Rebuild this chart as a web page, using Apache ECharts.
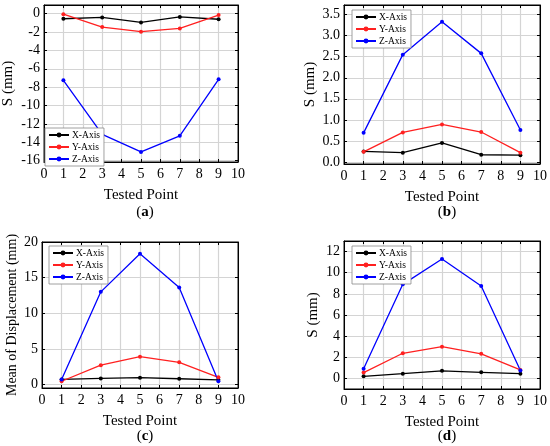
<!DOCTYPE html>
<html>
<head>
<meta charset="utf-8">
<script src="https://cdn.jsdelivr.net/npm/echarts@6/dist/echarts.min.js"></script>
<style>html,body{margin:0;padding:0;background:#fff;}#chart{width:550px;height:446px;}</style>
</head>
<body>
<div id="chart"></div>
<script>
var points = [1, 3, 5, 7, 9];
var seriesNames = ['X-Axis', 'Y-Axis', 'Z-Axis'];

// (a)
var aX = [-0.55, -0.4, -0.95, -0.35, -0.6];
var aY = [-0.05, -1.45, -1.95, -1.6, -0.15];
var aZ = [-7.25, -13.15, -15.05, -13.3, -7.15];
// (b)
var bX = [0.25, 0.22, 0.45, 0.17, 0.16];
var bY = [0.24, 0.7, 0.89, 0.71, 0.22];
var bZ = [0.69, 2.55, 3.33, 2.58, 0.76];
// (c)
var cX = [0.7, 0.85, 0.95, 0.8, 0.65];
var cY = [0.45, 2.7, 3.9, 3.1, 1.0];
var cZ = [0.7, 13.0, 18.35, 13.6, 0.45];
// (d)
var dX = [0.2, 0.45, 0.72, 0.58, 0.45];
var dY = [0.55, 2.38, 3.0, 2.33, 0.8];
var dZ = [0.92, 8.9, 11.3, 8.75, 0.75];

var panels = [
  {grid: {left: 42, top: 5, width: 196, height: 157}, yMin: -16.15, yMax: 0.95, split: 8, dec: 0, showMax: false,
   yName: 'S (mm)', yGap: 28, yFont: 15, data: [aX, aY, aZ], legend: {left: 45, top: 128}, cap: 'a', capX: 140, capY: 200},
  {grid: {left: 344, top: 5, width: 196, height: 159}, yMin: -0.05, yMax: 3.73, split: 7, dec: 1, showMax: false,
   yName: 'S (mm)', yGap: 26, yFont: 15, data: [bX, bY, bZ], legend: {left: 352, top: 10}, cap: 'b', capX: 442, capY: 200},
  {grid: {left: 42, top: 242, width: 196, height: 146}, yMin: -0.5, yMax: 20, split: 4, dec: 0, showMax: true,
   yName: 'Mean of Displacement (mm)', yGap: 23, yFont: 14, data: [cX, cY, cZ], legend: {left: 49, top: 246}, cap: 'c', capX: 140, capY: 424},
  {grid: {left: 344, top: 241, width: 196, height: 148}, yMin: -1, yMax: 13, split: 7, dec: 0, showMax: false,
   yName: 'S (mm)', yGap: 23, yFont: 15, data: [dX, dY, dZ], legend: {left: 352, top: 246}, cap: 'd', capX: 442, capY: 424}
];
var colors = ['#000000', '#ff2020', '#0000ff'];
var font = 'Liberation Serif';

var grids = [], xAxes = [], yAxes = [], series = [], legends = [], titles = [];
panels.forEach(function (p, i) {
  grids.push(Object.assign({show: true, borderColor: '#000', borderWidth: 1}, p.grid));
  var tick = {show: true, inside: true, length: 3, lineStyle: {color: '#000'}};
  var gridLine = {show: true, lineStyle: {color: '#d4d4d4', width: 1.2}};
  xAxes.push({
    gridIndex: i, type: 'value', min: 0, max: 10, interval: 1,
    name: 'Tested Point', nameLocation: 'middle', nameGap: 26,
    nameTextStyle: {fontFamily: font, fontSize: 15, color: '#000'},
    axisLine: {onZero: false, lineStyle: {color: '#000'}},
    axisTick: tick,
    axisLabel: {fontFamily: font, fontSize: 14, color: '#000', margin: 5},
    splitLine: gridLine
  });
  xAxes.push({
    gridIndex: i, type: 'value', min: 0, max: 10, interval: 1, position: 'top',
    axisLine: {onZero: false, lineStyle: {color: '#000'}},
    axisTick: tick, axisLabel: {show: false}, splitLine: {show: false}
  });
  yAxes.push({
    gridIndex: i, type: 'value', min: p.yMin, max: p.yMax, splitNumber: p.split,
    name: p.yName, nameLocation: 'middle', nameGap: p.yGap,
    nameTextStyle: {fontFamily: font, fontSize: p.yFont, color: '#000'},
    axisLine: {show: true, onZero: false, lineStyle: {color: '#000'}},
    axisTick: tick,
    axisLabel: {fontFamily: font, fontSize: 14, color: '#000', margin: 4,
      showMinLabel: false, showMaxLabel: p.showMax,
      formatter: function (v) { return v.toFixed(p.dec); }},
    splitLine: gridLine
  });
  yAxes.push({
    gridIndex: i, type: 'value', min: p.yMin, max: p.yMax, splitNumber: p.split, position: 'right',
    axisLine: {show: true, onZero: false, lineStyle: {color: '#000'}},
    axisTick: tick, axisLabel: {show: false}, splitLine: {show: false}
  });
  p.data.forEach(function (vals, k) {
    series.push({
      name: seriesNames[k], type: 'line', xAxisIndex: i * 2, yAxisIndex: i * 2,
      data: points.map(function (x, j) { return [x, vals[j]]; }),
      symbol: 'circle', symbolSize: 4, color: colors[k],
      lineStyle: {width: 1.3, color: colors[k]}, animation: false
    });
  });
  legends.push({
    left: p.legend.left, top: p.legend.top, orient: 'vertical', data: seriesNames,
    itemWidth: 20, itemHeight: 6, itemGap: 2, padding: [2, 4, 2, 3],
    borderColor: '#888', borderWidth: 0.8, backgroundColor: '#fff',
    textStyle: {fontFamily: font, fontSize: 9.5, color: '#000', padding: [0, 0, 0, -2]},
    selectedMode: false
  });
  titles.push({
    text: '({b|' + p.cap + '})', left: p.capX, top: p.capY, textAlign: 'center',
    textStyle: {fontFamily: font, fontSize: 15, fontWeight: 'normal', color: '#000',
      rich: {b: {fontFamily: font, fontSize: 15, fontWeight: 'bold', color: '#000'}}}
  });
});

var myChart = echarts.init(document.getElementById('chart'));
myChart.setOption({
  animation: false,
  title: titles,
  grid: grids,
  xAxis: xAxes,
  yAxis: yAxes,
  legend: legends,
  series: series
});
</script>
</body>
</html>
